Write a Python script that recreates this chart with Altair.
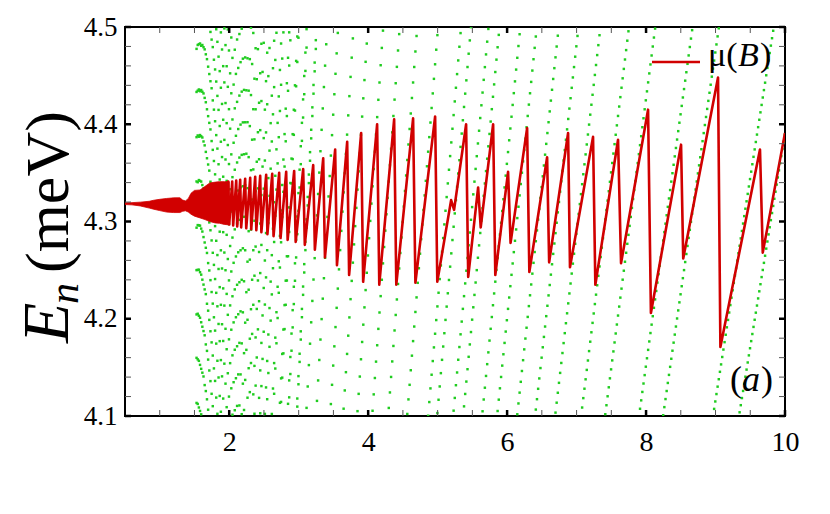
import altair as alt
import numpy as np
import pandas as pd

# ---------------- axes ----------------
X_DOMAIN = [0.5, 10.0]
Y_DOMAIN = [4.1, 4.5]
x_major = [2, 4, 6, 8, 10]
x_minor = [1.0, 1.5, 2.5, 3.0, 3.5, 4.5, 5.0, 5.5, 6.5, 7.0, 7.5, 8.5, 9.0, 9.5]
y_major = [4.1, 4.2, 4.3, 4.4, 4.5]
y_minor = [4.12, 4.14, 4.16, 4.18, 4.22, 4.24, 4.26, 4.28,
           4.32, 4.34, 4.36, 4.38, 4.42, 4.44, 4.46, 4.48]

# ---------------- Landau levels (green) ----------------
# B (T) at which each level E_n = s_n * B crosses E = 4.1 meV
level_B41 = [9.338, 8.964, 8.245, 7.899, 7.410, 7.065, 6.691, 6.403, 6.144, 5.856,
             5.640, 5.367, 5.223, 4.993, 4.863, 4.561, 4.288, 4.058, 3.842, 3.640,
             3.453, 3.251, 3.107,
             2.973, 2.967, 2.850, 2.838, 2.737, 2.721, 2.632, 2.612, 2.536, 2.512,
             2.445, 2.419, 2.362, 2.334, 2.283, 2.253, 2.210, 2.179, 2.141, 2.108,
             2.077, 2.046, 2.016, 1.987, 1.959, 1.931, 1.905, 1.878, 1.854, 1.829,
             1.805, 1.781, 1.759, 1.737, 1.715, 1.694, 1.673, 1.653, 1.634, 1.614,
             1.596, 1.578, 1.560, 1.542, 1.525, 1.508, 1.492, 1.476, 1.461, 1.445,
             1.430, 1.415, 1.401, 1.387]
LEVEL_E_REF = 4.1
LEVEL_B_START = 1.53     # levels are computed from this field on
LEVEL_B_STEP = 1.0 / 60  # field grid of the computed levels

# ---------------- chemical potential (red) ----------------
# dense low-field part: envelope of the fast oscillation
band_B = [0.50, 0.60, 0.72, 0.85, 0.91, 1.00, 1.10, 1.20, 1.29, 1.33, 1.37, 1.41,
          1.45, 1.50, 1.58, 1.65, 1.72, 1.80, 1.86, 1.93, 2.00]
band_lo = [4.3174, 4.3171, 4.3160, 4.3138, 4.3127, 4.3112, 4.3097, 4.3092, 4.3092,
           4.3105, 4.3110, 4.3098, 4.3075, 4.3055, 4.3037, 4.3020, 4.3000, 4.2985,
           4.2982, 4.2970, 4.2965]
band_hi = [4.3192, 4.3194, 4.3199, 4.3208, 4.3218, 4.3228, 4.3237, 4.3243, 4.3244,
           4.3220, 4.3212, 4.3235, 4.3290, 4.3320, 4.3324, 4.3360, 4.3396, 4.3405,
           4.3410, 4.3410, 4.3410]

# resolved saw-tooth part (vertices)
mu_B = [1.950,
        1.986, 2.000, 2.043, 2.057, 2.101, 2.115, 2.158, 2.172, 2.230, 2.245,
        2.302, 2.317, 2.374, 2.390, 2.446, 2.463, 2.532, 2.550, 2.619, 2.638,
        2.719, 2.739, 2.820, 2.841, 2.935, 2.957, 3.065, 3.088, 3.209, 3.233,
        3.353, 3.378, 3.525, 3.551, 3.698, 3.726, 3.899, 3.928, 4.129, 4.160,
        4.374, 4.405, 4.647, 4.680, 4.964, 4.995, 5.194, 5.237, 5.410, 5.440,
        5.583, 5.620, 5.799, 5.830, 6.014, 6.050, 6.288, 6.320, 6.576, 6.605,
        6.878, 6.905, 7.237, 7.270, 7.597, 7.640, 8.029, 8.070, 8.504, 8.535,
        9.036, 9.070, 9.640, 9.680, 10.000]
mu_E = [4.300,
        4.341, 4.297, 4.341, 4.296, 4.342, 4.295, 4.343, 4.294, 4.344, 4.293,
        4.345, 4.292, 4.346, 4.291, 4.347, 4.289, 4.348, 4.287, 4.349, 4.285,
        4.350, 4.283, 4.351, 4.281, 4.352, 4.279, 4.354, 4.276, 4.358, 4.271,
        4.365, 4.263, 4.374, 4.255, 4.382, 4.245, 4.391, 4.238, 4.400, 4.235,
        4.405, 4.235, 4.406, 4.237, 4.408, 4.238, 4.322, 4.312, 4.400, 4.243,
        4.335, 4.294, 4.400, 4.245, 4.351, 4.278, 4.396, 4.248, 4.366, 4.258,
        4.391, 4.253, 4.387, 4.235, 4.384, 4.257, 4.415, 4.206, 4.379, 4.262,
        4.448, 4.171, 4.374, 4.268, 4.391]

GREEN = "#1fcc1f"
RED = "#d10000"
FONT = "Liberation Serif, Times New Roman, Times, serif"

# ---------------- build data frames ----------------
grid = np.arange(LEVEL_B_START, X_DOMAIN[1] + 1e-9, LEVEL_B_STEP)
rows = []
for k, b41 in enumerate(level_B41):
    s = LEVEL_E_REF / b41
    E = s * grid
    m = (E >= Y_DOMAIN[0] - 1e-9) & (E <= Y_DOMAIN[1] + 1e-9)
    for b, e in zip(grid[m], E[m]):
        rows.append({"B": float(b), "E": float(e), "n": k})
levels_df = pd.DataFrame(rows)

band_df = pd.DataFrame({"B": band_B, "lo": band_lo, "hi": band_hi})
mu_df = pd.DataFrame({"B": mu_B, "E": mu_E})

xs = alt.Scale(domain=X_DOMAIN, nice=False, zero=False)
ys = alt.Scale(domain=Y_DOMAIN, nice=False, zero=False)
x_axis = alt.Axis(values=x_major, title=None, labelPadding=12, tickSize=0, domain=False,
                  grid=False, labelFontSize=28, labelFont=FONT, labelColor="black",
                  labelFlush=False)
y_axis = alt.Axis(values=y_major, format=".1f", title=None, labelPadding=8, tickSize=0,
                  domain=False, grid=False, labelFontSize=27, labelFont=FONT,
                  labelColor="black", labelFlush=False)

W, H = 660, 389

def X(field):
    return alt.X(field, type="quantitative", scale=xs, axis=x_axis)

def Y(field):
    return alt.Y(field, type="quantitative", scale=ys, axis=y_axis)

green = alt.Chart(levels_df).mark_square(size=6, color=GREEN, opacity=1, clip=True).encode(
    x=X("B"), y=Y("E"))

band = alt.Chart(band_df).mark_area(color=RED, opacity=1, clip=True,
                                    stroke=RED, strokeWidth=0.8).encode(
    x=X("B"), y=Y("lo"), y2="hi:Q")

mu_line = alt.Chart(mu_df).mark_line(color=RED, strokeWidth=2.6, clip=True,
                                     strokeJoin="round").encode(
    x=X("B"), y=Y("E"))

def xticks(vals, width, color):
    d = pd.DataFrame({"B": vals})
    bot = alt.Chart(d).mark_rule(color=color, strokeWidth=width).encode(
        x=X("B"), y=alt.value(H), y2=alt.value(H - 6))
    top = alt.Chart(d).mark_rule(color=color, strokeWidth=width).encode(
        x=X("B"), y=alt.value(0), y2=alt.value(6))
    return [bot, top]

def yticks(vals, width, color):
    d = pd.DataFrame({"E": vals})
    lft = alt.Chart(d).mark_rule(color=color, strokeWidth=width).encode(
        y=Y("E"), x=alt.value(0), x2=alt.value(6))
    rgt = alt.Chart(d).mark_rule(color=color, strokeWidth=width).encode(
        y=Y("E"), x=alt.value(W), x2=alt.value(W - 6))
    return [lft, rgt]

ticks = (xticks(x_minor, 1, "#555555") + xticks(x_major, 2.5, "black") +
         yticks(y_minor, 1, "#555555") + yticks(y_major, 2.5, "black"))

one = alt.Data(values=[{"a": 1}])

def txt(s, x, y, size, italic=False, angle=0):
    return alt.Chart(one).mark_text(
        text=s, font=FONT, fontSize=size, fontStyle="italic" if italic else "normal",
        align="left", baseline="alphabetic", angle=angle, color="black",
    ).encode(x=alt.value(x), y=alt.value(y))

# y-axis title E_n (meV)
ytitle = [
    txt("E", -57, 316, 66, italic=True, angle=270),
    txt("n", -47, 277, 42, italic=True, angle=270),
    txt("(meV)", -57, 246, 62, angle=270),
]

legend_line = alt.Chart(one).mark_rule(color=RED, strokeWidth=2.4).encode(
    x=alt.value(527), x2=alt.value(575), y=alt.value(35))
legend_txt = [
    txt("\u03bc(", 583, 39, 34),
    txt("B", 613, 39, 34, italic=True),
    txt(")", 635, 39, 34),
]
panel = [
    txt("(", 605, 364, 36),
    txt("a", 617, 364, 36, italic=True),
    txt(")", 636, 364, 36),
]

chart = alt.layer(green, band, mu_line, *ticks, legend_line, *legend_txt, *panel,
                  *ytitle).properties(
    width=W, height=H,
    padding={"left": 117, "top": 19, "right": 37, "bottom": 90},
    autosize=alt.AutoSizeParams(type="none"),
).configure_view(stroke="black", strokeWidth=2).configure_axis(grid=False)

chart.save("out.html", embed_options={"renderer": "svg", "actions": False})
